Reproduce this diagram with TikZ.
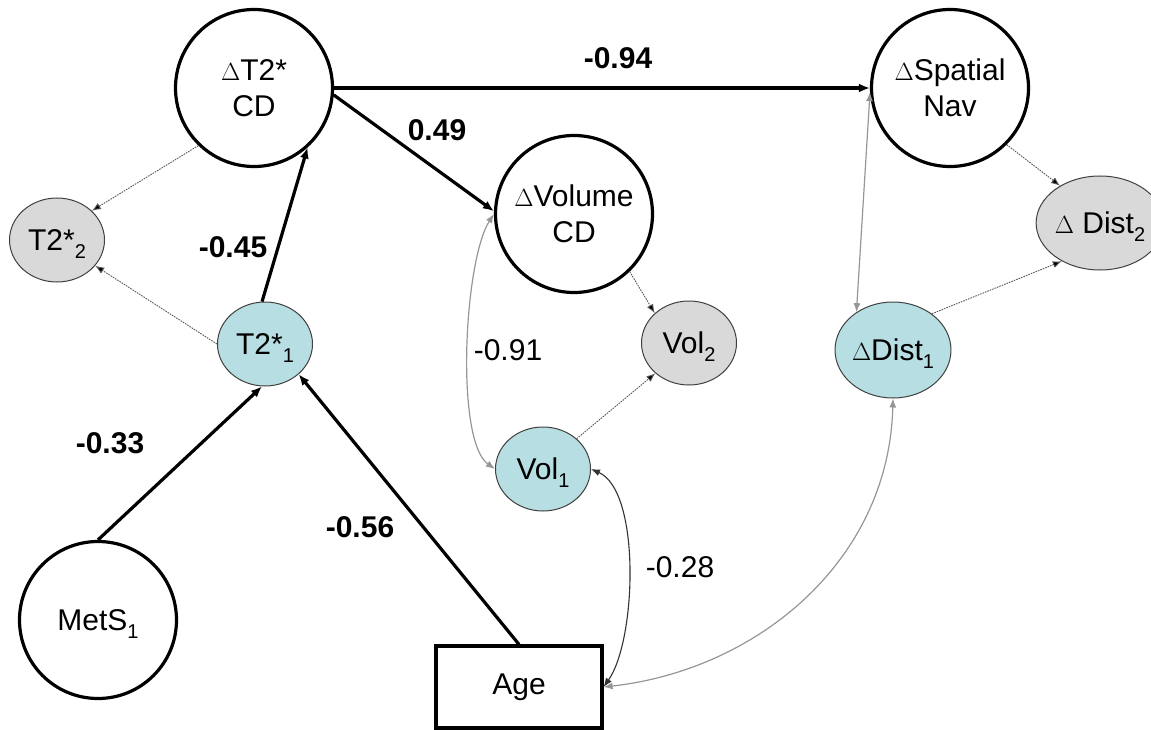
\documentclass[tikz,border=0pt]{standalone}
\usepackage{fontspec}
\setmainfont{Liberation Sans}
\usetikzlibrary{arrows.meta,shapes.geometric}
\definecolor{paleteal}{RGB}{183,222,226}
\definecolor{lightgrey}{RGB}{217,217,217}
\definecolor{linkgrey}{RGB}{150,150,150}
% lowered, smaller index that does not change the height of its node text
\newcommand\lowsub[1]{\raisebox{-8pt}[0pt][0pt]{\fontsize{20}{20}\selectfont #1}}

\begin{document}
\begin{tikzpicture}[x=1pt,y=-1pt,
  every node/.style={font=\fontsize{30}{36}\selectfont},
  latent/.style={circle,draw,line width=3.2pt,minimum size=157pt,inner sep=0pt,align=center},
  measured/.style={ellipse,draw=black!75,line width=1pt,inner sep=0pt,
                   minimum width=95pt,minimum height=84pt},
  baseline1/.style={measured,fill=paleteal},
  followup/.style={measured,fill=lightgrey},
  covariate/.style={rectangle,draw,line width=3.2pt,minimum width=166pt,minimum height=82pt},
  path/.style={line width=3.2pt,-{Latex[length=11pt,width=9pt]}},
  loading/.style={draw=black!65,line width=0.9pt,dash pattern=on 1.6pt off 1pt,
                  -{Latex[length=9pt,width=7pt,fill=black]}},
  corr/.style={draw=linkgrey,line width=1.2pt,
               {Latex[length=9pt,width=7pt]}-{Latex[length=9pt,width=7pt]}},
  corrdark/.style={draw=black!80,line width=1.1pt,
               {Latex[length=9pt,width=7pt]}-{Latex[length=9pt,width=7pt]}},
  coef/.style={font=\fontsize{30}{36}\selectfont\bfseries},
  coefplain/.style={font=\fontsize{30}{36}\selectfont}]

\useasboundingbox (0,0) rectangle (1151,730);

% latent change factors
\node[latent] (t2cd) at (254,88) {$\Delta$T2*\\CD};
\node[latent] (vcd)  at (574,214) {$\Delta$Volume\\CD};
\node[latent] (snav) at (950,88) {$\Delta$Spatial\\Nav};
\node[latent] (mets) at (98,620) {MetS\lowsub{1}};

% observed indicators
\node[followup]  (t2b) at (57,240)  {T2*\lowsub{2}};
\node[baseline1] (t2a) at (265,344) {T2*\lowsub{1}};
\node[followup]  (vb)  at (689,343) {Vol\lowsub{2}};
\node[baseline1] (va)  at (543,469) {Vol\lowsub{1}};
\node[followup, minimum width=102pt, minimum height=94pt] (db) at (1100,223) {$\Delta$ Dist\lowsub{2}};
\node[baseline1, minimum width=104pt, minimum height=96pt] (da) at (893,350) {$\Delta$Dist\lowsub{1}};

% covariate
\node[covariate] (age) at (519,687) {Age};

% structural paths
\draw[path] (t2cd.east) -- (snav.west);
\draw[path] (t2cd.-5) -- (vcd.178);
\draw[path] (t2a.94) -- (t2cd.-48);
\draw[path] (mets.north) -- (t2a.-94);
\draw[path] (age.north) -- (t2a.-42);

% indicator loadings
\draw[loading] (t2cd.226) -- (t2b.40);
\draw[loading] (t2a.west) -- (t2b.-34);
\draw[loading] (vcd.-46) -- (vb.139);
\draw[loading] (va.42) -- (vb.222);
\draw[loading] (snav.-45) -- (db.137);
\draw[loading] (da.43) -- (db.225);

% covariances
\draw[corr] (vcd.west) .. controls +(-30,47) and +(-40,-28) .. (va.west);
\draw[corrdark] (va.east) .. controls +(50,22) and +(33,-47) .. (age.east);
\draw[corr] (age.east) .. controls +(153,-17) and +(-4,163) .. (da.south);
\draw[corr] (snav.183) -- (da.134);

% coefficients
\node[coef] (c094) at (618,58)  {-0.94};
\node[coef] (c049) at (437,130) {0.49};
\node[coef] (c045) at (233,247) {-0.45};
\node[coef] (c033) at (110,443) {-0.33};
\node[coef] (c056) at (360,527) {-0.56};
\node[coefplain] (c091) at (508,350) {-0.91};
\node[coefplain] (c028) at (680,567) {-0.28};
\end{tikzpicture}
\end{document}
